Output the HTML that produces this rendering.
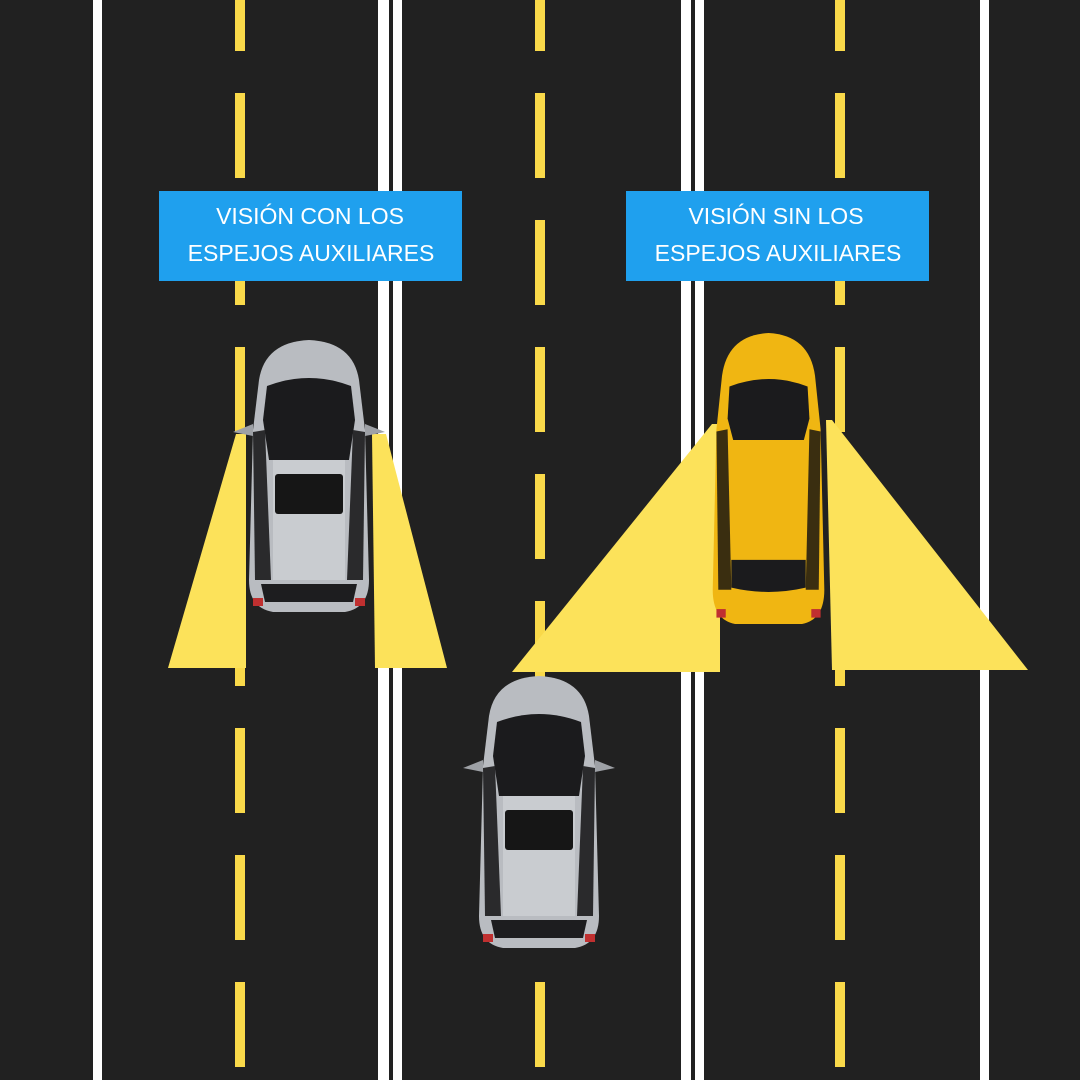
<!DOCTYPE html>
<html><head><meta charset="utf-8"><style>
html,body{margin:0;padding:0;background:#212121}
svg{display:block}
</style></head><body>
<svg width="1080" height="1080" viewBox="0 0 1080 1080" xmlns="http://www.w3.org/2000/svg">
<defs>
<pattern id="dash" x="0" y="-34" width="20" height="127" patternUnits="userSpaceOnUse">
<rect x="0" y="0" width="20" height="85" fill="#f9d94a"/>
</pattern>
<g id="car">
  <!-- body 128x272 -->
  <path d="M14,40 Q20,2 64,0 Q108,2 114,40 L120,90 L124,240 Q124,268 100,272 L28,272 Q4,268 4,240 L8,90 Z" fill="#b9bcc1"/>
  <path d="M22,46 Q64,30 106,46 L110,80 L104,120 L24,120 L18,80 Z" fill="#1b1b1d"/>
  <rect x="28" y="120" width="72" height="120" fill="#c9ccd0"/>
  <rect x="30" y="134" width="68" height="40" rx="3" fill="#161616"/>
  <path d="M8,92 L20,90 L26,240 L10,240 Z" fill="#2a2a2c"/>
  <path d="M120,92 L108,90 L102,240 L118,240 Z" fill="#2a2a2c"/>
  <path d="M16,244 L112,244 L108,262 L20,262 Z" fill="#1d1d1f"/>
  <path d="M-12,92 L8,84 L8,96 Z" fill="#9ea1a6"/>
  <path d="M140,92 L120,84 L120,96 Z" fill="#9ea1a6"/>
  <rect x="8" y="258" width="10" height="8" fill="#c03030"/>
  <rect x="110" y="258" width="10" height="8" fill="#c03030"/>
</g>
</defs>
<rect width="1080" height="1080" fill="#212121"/>
<!-- white lines -->
<rect x="93" y="0" width="9" height="1080" fill="#fff"/>
<rect x="378" y="0" width="11" height="1080" fill="#fff"/>
<rect x="393" y="0" width="9" height="1080" fill="#fff"/>
<rect x="681" y="0" width="10" height="1080" fill="#fff"/>
<rect x="695" y="0" width="9" height="1080" fill="#fff"/>
<rect x="980" y="0" width="9" height="1080" fill="#fff"/>
<!-- yellow dashes -->
<rect x="235" y="0" width="10" height="1080" fill="url(#dash)"/>
<rect x="535" y="0" width="10" height="1080" fill="url(#dash)"/>
<rect x="835" y="0" width="10" height="1080" fill="url(#dash)"/>
<!-- cones -->
<polygon points="236,434 246,434 246,668 168,668" fill="#fce25a"/>
<polygon points="372,434 386,434 447,668 375,668" fill="#fce25a"/>
<polygon points="712,424 720,424 720,672 512,672" fill="#fce25a"/>
<polygon points="826,420 832,420 1028,670 832,670" fill="#fce25a"/>
<!-- cars -->
<use href="#car" transform="translate(245,340)"/>
<use href="#car" transform="translate(475,676)"/>
<g transform="translate(709,333) scale(0.93,1.07)">
  <path d="M14,40 Q20,2 64,0 Q108,2 114,40 L120,90 L124,240 Q124,268 100,272 L28,272 Q4,268 4,240 L8,90 Z" fill="#f0b612"/>
  <path d="M22,50 Q64,36 106,50 L108,80 L102,100 L26,100 L20,80 Z" fill="#1b1b1d"/>
  <path d="M8,92 L20,90 L24,240 L10,240 Z" fill="#3a2e10"/>
  <path d="M120,92 L108,90 L104,240 L118,240 Z" fill="#3a2e10"/>
  <path d="M24,212 L104,212 L104,238 Q64,246 24,238 Z" fill="#1b1b1d"/>
  <rect x="8" y="258" width="10" height="8" fill="#c03030"/>
  <rect x="110" y="258" width="10" height="8" fill="#c03030"/>
</g>
<!-- labels -->
<rect x="159" y="191" width="303" height="90" fill="#1fa0ee"/>
<text x="310" y="224" text-anchor="middle" font-family="Liberation Sans, sans-serif" font-size="23" fill="#fff">VISIÓN CON LOS</text>
<text x="311" y="261" text-anchor="middle" font-family="Liberation Sans, sans-serif" font-size="23" fill="#fff">ESPEJOS AUXILIARES</text>
<rect x="626" y="191" width="303" height="90" fill="#1fa0ee"/>
<text x="776" y="224" text-anchor="middle" font-family="Liberation Sans, sans-serif" font-size="23" fill="#fff">VISIÓN SIN LOS</text>
<text x="778" y="261" text-anchor="middle" font-family="Liberation Sans, sans-serif" font-size="23" fill="#fff">ESPEJOS AUXILIARES</text>
</svg>
</body></html>
